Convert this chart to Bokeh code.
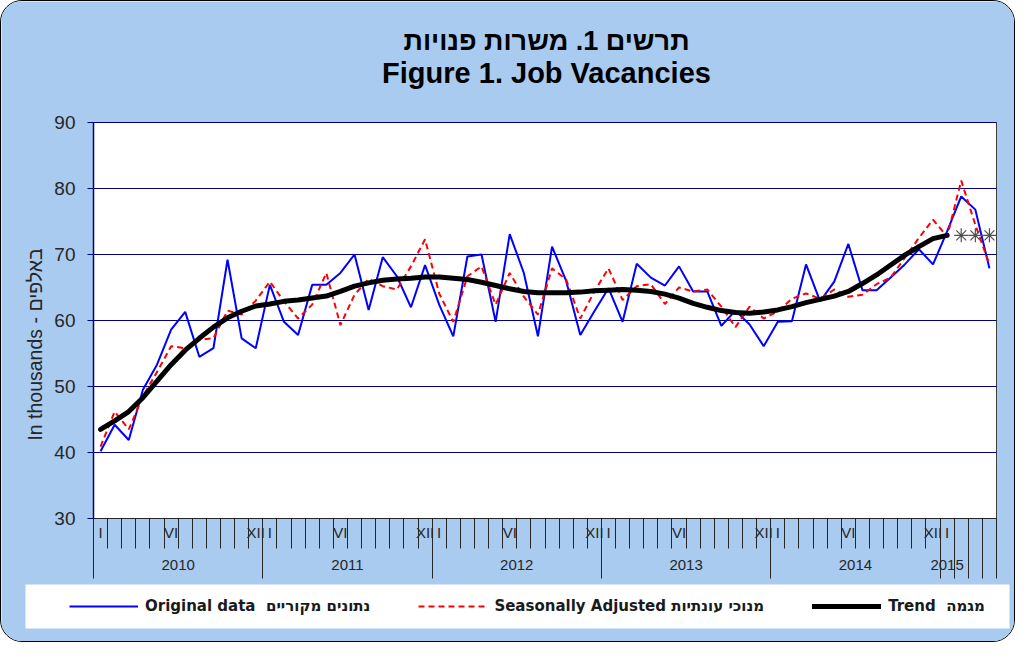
import math
from bokeh.plotting import figure
from bokeh.models import (Range1d, FixedTicker, LinearAxis, Label, Legend, LegendItem,
                          BoxAnnotation)
from bokeh.embed import file_html
from bokeh.resources import INLINE

# ---------------- data ----------------
title_he = "תרשים 1. משרות פנויות"
title_en = "Figure 1. Job Vacancies"
y_label = "In thousands - באלפים"
years = ["2010", "2011", "2012", "2013", "2014", "2015"]
months_in_year = [12, 12, 12, 12, 12, 4]
month_tick_labels = {0: "I", 5: "VI", 11: "XII"}
y_ticks = [30, 40, 50, 60, 70, 80, 90]
series_names = ["Original data  נתונים מקוריים",
                "Seasonally Adjusted מנוכי עונתיות",
                "Trend  מגמה"]

original = [40.2, 44.2, 41.9, 49.5, 53.3, 58.6, 61.3, 54.5, 55.8, 69.2, 57.3, 55.8,
            65.4, 59.8, 57.8, 65.4, 65.4, 67.2, 70.0, 61.6, 69.6, 66.7, 62.0, 68.4,
            62.4, 57.6, 69.7, 70.0, 59.8, 73.1, 67.2, 57.6, 71.2, 66.0, 57.8, 61.4,
            64.9, 59.8, 68.6, 66.5, 65.3, 68.2, 64.4, 64.4, 59.2, 61.5, 59.4, 56.1,
            59.8, 59.9, 68.5, 62.9, 65.9, 71.6, 64.6, 64.6, 66.5, 68.5, 70.8, 68.5,
            73.5, 78.8, 76.8, 67.9]

seasonally_adjusted = [40.9, 46.2, 43.5, 48.5, 52.2, 56.1, 55.8, 57.1, 57.3, 61.5, 60.9, 63.0,
                       65.9, 62.9, 60.3, 62.4, 67.2, 59.3, 63.9, 66.3, 65.2, 64.7, 68.2, 72.3,
                       64.1, 59.8, 66.7, 68.2, 62.4, 67.2, 63.6, 60.9, 67.9, 66.2, 60.3, 64.4,
                       67.9, 63.1, 65.2, 65.5, 62.5, 65.0, 64.4, 64.7, 62.1, 59.0, 62.1, 60.3,
                       61.4, 63.3, 64.1, 63.3, 64.7, 63.6, 63.9, 65.5, 66.5, 69.5, 72.5, 75.3,
                       72.7, 81.2, 74.5, 68.5]

trend = [43.5, 44.8, 46.2, 48.3, 50.8, 53.3, 55.5, 57.3, 59.0, 60.4, 61.4, 62.2,
         62.5, 62.9, 63.1, 63.4, 63.7, 64.4, 65.2, 65.7, 66.1, 66.3, 66.4, 66.6,
         66.6, 66.4, 66.2, 65.8, 65.3, 64.8, 64.4, 64.2, 64.2, 64.2, 64.3, 64.5,
         64.6, 64.7, 64.6, 64.4, 64.0, 63.4, 62.6, 62.0, 61.5, 61.2, 61.1, 61.3,
         61.6, 62.1, 62.7, 63.2, 63.7, 64.4, 65.6, 66.9, 68.4, 69.9, 71.2, 72.4,
         72.9]
trend_estimates = [72.9, 72.9, 72.9]

# ---------------- layout / styles ----------------
BG = "#a9cbef"
NAVY = "#000080"
TXT = "#262626"
W, H = 1015, 642
PX0, PX1 = 92, 995      # plot area left/right (pixels)
PY0, PY1 = 121, 517     # plot area top/bottom (pixels)
Y0, Y1 = y_ticks[0], y_ticks[-1]

n = sum(months_in_year)
xs = [i + 0.5 for i in range(n)]

# the frame covers the whole canvas; the plot area is mapped into it
kx = n / (PX1 - PX0)
ky = (Y1 - Y0) / (PY1 - PY0)
x_range = Range1d(0 - PX0 * kx, n + (W - PX1) * kx)
y_range = Range1d(Y0 - (H - PY1) * ky, Y1 + PY0 * ky)

p = figure(width=W, height=H, x_range=x_range, y_range=y_range,
           output_backend="svg", toolbar_location=None, title=None,
           min_border=0, border_fill_color=BG, background_fill_color=BG,
           outline_line_color=None,
           styles={"border-radius": "22px", "overflow": "hidden",
                   "border": "1px solid black"})

# white plot area
p.quad(left=[0], right=[n], bottom=[Y0], top=[Y1], fill_color="white",
       line_color="#404040", line_width=1, level="image")

# y axis, fixed at x = 0
ya = p.yaxis[0]
ya.fixed_location = 0
ya.bounds = (Y0, Y1)
ya.ticker = FixedTicker(ticks=y_ticks, minor_ticks=[])
ya.axis_line_color = NAVY
ya.axis_line_width = 1.5
ya.major_tick_line_color = NAVY
ya.major_tick_out = 6
ya.major_tick_in = 0
ya.minor_tick_line_color = None
ya.major_label_text_font = "Liberation Sans"
ya.major_label_text_font_size = "19px"
ya.major_label_text_color = TXT
ya.major_label_standoff = 12

# grid
p.xgrid.visible = False
g = p.ygrid[0]
g.grid_line_color = NAVY
g.grid_line_width = 1
g.bounds = (Y0, Y1)
if "cross_bounds" in g.properties():
    g.cross_bounds = (0, n)

# x axis: tick structure
starts = [0]
for m in months_in_year:
    starts.append(starts[-1] + m)
long_ticks = starts[:-2] + list(range(starts[-2], starts[-1] + 1))
short_ticks = [i for i in range(n + 1) if i not in long_ticks]
month_pos, month_txt, year_pos = [], [], []
for yi, cnt in enumerate(months_in_year):
    s = starts[yi]
    for k, lab in month_tick_labels.items():
        if k < cnt:
            month_pos.append(s + k + 0.5)
            month_txt.append(lab)
    year_pos.append(s + (cnt / 2 if cnt == 12 else 0.5))

xa = p.xaxis[0]
xa.fixed_location = Y0
xa.bounds = (0, n)
xa.ticker = FixedTicker(ticks=long_ticks, minor_ticks=short_ticks)
xa.major_label_overrides = {t: "" for t in long_ticks}
xa.axis_line_color = TXT
xa.major_tick_line_color = TXT
xa.minor_tick_line_color = TXT
xa.major_tick_out = 60
xa.major_tick_in = 0
xa.minor_tick_out = 30
xa.minor_tick_in = 0

common = dict(fixed_location=Y0, bounds=(0, n), axis_line_color=None,
              major_tick_line_color=None, minor_tick_line_color=None,
              major_tick_out=0, major_tick_in=0, minor_tick_out=0, minor_tick_in=0,
              major_label_text_font="Liberation Sans", major_label_text_font_size="15px",
              major_label_text_color=TXT)
x_months = LinearAxis(ticker=FixedTicker(ticks=month_pos, minor_ticks=[]),
                      major_label_overrides={pos: t for pos, t in zip(month_pos, month_txt)},
                      major_label_standoff=5, **common)
x_years = LinearAxis(ticker=FixedTicker(ticks=year_pos, minor_ticks=[]),
                     major_label_overrides={pos: y for pos, y in zip(year_pos, years)},
                     major_label_standoff=41, **common)
p.add_layout(x_months, "below")
p.add_layout(x_years, "below")

# series
r_orig = p.line(xs, original, line_color="#0000ff", line_width=2)
r_sa = p.line(xs, seasonally_adjusted, line_color="#ff0000", line_width=2, line_dash="6 4")
r_tr = p.line(xs[:len(trend)], trend, line_color="black", line_width=5,
              line_cap="round", line_join="round")
p.scatter(xs[len(trend):len(trend) + len(trend_estimates)], trend_estimates,
          marker="asterisk", size=14, line_color="#505050", line_width=1.2)

# texts (screen units: from canvas left / bottom)
TFONT = "Liberation Sans"
p.add_layout(Label(x=545, y=H - 39, x_units="screen", y_units="screen", text=title_he,
                   text_align="center", text_baseline="middle", text_font=TFONT,
                   text_font_size="27px", text_font_style="bold", text_color="black"))
p.add_layout(Label(x=545, y=H - 71, x_units="screen", y_units="screen", text=title_en,
                   text_align="center", text_baseline="middle", text_font=TFONT,
                   text_font_size="29px", text_font_style="bold", text_color="black"))
p.add_layout(Label(x=33, y=H - 343, x_units="screen", y_units="screen", text=y_label,
                   angle=math.pi / 2, text_align="center", text_baseline="middle",
                   text_font="Liberation Sans", text_font_size="19.5px", text_color=TXT))

# legend box and legend
p.add_layout(BoxAnnotation(left=24, right=1008, top=H - 583, bottom=H - 627,
                           left_units="screen", right_units="screen",
                           top_units="screen", bottom_units="screen",
                           fill_color="white", fill_alpha=1, line_alpha=0,
                           level="annotation"))
legend = Legend(items=[LegendItem(label=series_names[0], renderers=[r_orig]),
                       LegendItem(label=series_names[1], renderers=[r_sa]),
                       LegendItem(label=series_names[2], renderers=[r_tr])],
                orientation="horizontal", location=(56, H - 627),
                background_fill_alpha=0, border_line_alpha=0,
                padding=12, margin=0, spacing=48, glyph_width=69, glyph_height=20,
                label_height=20, label_standoff=7,
                label_text_font="DejaVu Sans", label_text_font_style="bold",
                label_text_font_size="15px", label_text_color="#1a1a1a")
p.add_layout(legend, "center")

open("out.html", "w").write(file_html(p, INLINE))
